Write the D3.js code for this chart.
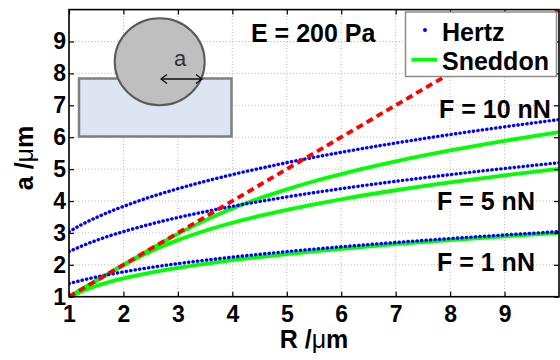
<!DOCTYPE html>
<html>
<head>
<meta charset="utf-8">
<script src="https://cdn.jsdelivr.net/npm/d3@7"></script>
<style>
  html, body { margin: 0; padding: 0; background: #fff; }
  svg { display: block; font-family: "Liberation Sans", Arial, Helvetica, sans-serif; }
</style>
</head>
<body>
<svg id="chart" width="560" height="360"></svg>
<script>
// Sphere radius R (µm)
const radius = [1, 1.25, 1.5, 1.75, 2, 2.25, 2.5, 2.75, 3, 3.5, 4, 4.5, 5, 5.5, 6, 7, 8, 9, 10];

// Contact radius a (µm), Hertz model
const hertz1  = [1.411, 1.520, 1.616, 1.701, 1.778, 1.849, 1.916, 1.978, 2.036, 2.143, 2.241, 2.330, 2.414, 2.492, 2.565, 2.700, 2.823, 2.936, 3.041];
const hertz5  = [2.413, 2.599, 2.763, 2.909, 3.040, 3.162, 3.276, 3.382, 3.481, 3.665, 3.832, 3.984, 4.128, 4.261, 4.386, 4.617, 4.827, 5.020, 5.200];
const hertz10 = [3.040, 3.275, 3.481, 3.665, 3.830, 3.984, 4.128, 4.261, 4.386, 4.617, 4.828, 5.020, 5.201, 5.369, 5.526, 5.817, 6.082, 6.325, 6.552];

// Contact radius a (µm), Sneddon model
const sneddon1  = [0.983, 1.179, 1.336, 1.465, 1.575, 1.671, 1.756, 1.833, 1.905, 2.032, 2.143, 2.244, 2.337, 2.422, 2.501, 2.646, 2.776, 2.894, 3.003];
const sneddon5  = [1.000, 1.250, 1.500, 1.747, 1.987, 2.212, 2.419, 2.605, 2.774, 3.068, 3.317, 3.533, 3.725, 3.897, 4.055, 4.337, 4.584, 4.804, 5.006];
const sneddon10 = [1.000, 1.250, 1.500, 1.750, 2.000, 2.249, 2.496, 2.736, 2.968, 3.392, 3.762, 4.084, 4.366, 4.618, 4.844, 5.241, 5.584, 5.886, 6.159];

// Geometric limit a = R
const limitR = [1, 10];
const limitA = [1, 10];

// Axis ticks
const xTicks = [1, 2, 3, 4, 5, 6, 7, 8, 9];
const yTicks = [1, 2, 3, 4, 5, 6, 7, 8, 9];

// Force annotations
const forceLabels = ["F = 10 nN", "F = 5 nN", "F = 1 nN"];

const svg = d3.select("#chart");
const plotLeft = 69, plotRight = 559, plotTop = 9.6, plotBottom = 296.7;

const x = d3.scaleLinear().domain([1, 10]).range([plotLeft, plotRight]);
const y = d3.scaleLinear().domain([1, 10]).range([plotBottom, plotTop]);

svg.append("defs").append("clipPath").attr("id", "plot")
  .append("rect").attr("x", plotLeft).attr("y", plotTop)
  .attr("width", plotRight - plotLeft).attr("height", plotBottom - plotTop);

// Grid
const grid = svg.append("g");
grid.selectAll("line.gx").data(xTicks).join("line").attr("class", "gx")
  .attr("x1", d => x(d)).attr("x2", d => x(d))
  .attr("y1", plotTop).attr("y2", plotBottom);
grid.selectAll("line.gy").data(yTicks).join("line").attr("class", "gy")
  .attr("y1", d => y(d)).attr("y2", d => y(d))
  .attr("x1", plotLeft).attr("x2", plotRight);
grid.selectAll("line")
  .attr("stroke", "#b4b4b4").attr("stroke-width", 1)
  .attr("stroke-dasharray", "1 2.2");

// Inset sketch: sphere on a substrate
const inset = svg.append("g");
inset.append("rect")
  .attr("x", 79).attr("y", 78.5).attr("width", 152.5).attr("height", 58)
  .attr("fill", "#dce5f1").attr("stroke", "#7f7f7f").attr("stroke-width", 2.5);
inset.append("ellipse")
  .attr("cx", 159.7).attr("cy", 61.7).attr("rx", 45).attr("ry", 43.5)
  .attr("fill", "#bfbfbf").attr("stroke", "#5a5a5a").attr("stroke-width", 2);
inset.append("line")
  .attr("x1", 161).attr("x2", 202).attr("y1", 79).attr("y2", 79)
  .attr("stroke", "#111").attr("stroke-width", 1.3);
inset.append("path")
  .attr("d", "M167,74.5 L161,79 L167,83.5 M196,74.5 L202,79 L196,83.5")
  .attr("fill", "none").attr("stroke", "#111").attr("stroke-width", 1.3);
inset.append("text")
  .attr("x", 180).attr("y", 66).attr("text-anchor", "middle")
  .attr("font-size", 22).attr("fill", "#333").text("a");

// Curves
const line = d3.line().x(d => x(d[0])).y(d => y(d[1])).curve(d3.curveMonotoneX);
const curves = svg.append("g").attr("clip-path", "url(#plot)");

const sneddonSeries = [sneddon1, sneddon5, sneddon10];
const hertzSeries = [hertz1, hertz5, hertz10];

curves.selectAll("path.sneddon").data(sneddonSeries).join("path")
  .attr("class", "sneddon")
  .attr("d", v => line(radius.map((r, i) => [r, v[i]])))
  .attr("fill", "none").attr("stroke", "#00ff00").attr("stroke-width", 3.8);

curves.selectAll("path.hertz").data(hertzSeries).join("path")
  .attr("class", "hertz")
  .attr("d", v => line(radius.map((r, i) => [r, v[i]])))
  .attr("fill", "none").attr("stroke", "#0000ff").attr("stroke-width", 3.4)
  .attr("stroke-linecap", "round").attr("stroke-dasharray", "0.3 4.2");

curves.append("path")
  .attr("d", d3.line().x(d => x(d[0])).y(d => y(d[1]))(limitR.map((r, i) => [r, limitA[i]])))
  .attr("fill", "none").attr("stroke", "#ff0000").attr("stroke-width", 3.8)
  .attr("stroke-dasharray", "7 4.5");

// Axes
const fmt = d3.format("d");
svg.append("g").attr("transform", `translate(0,${plotBottom})`)
  .call(d3.axisBottom(x).tickValues(xTicks).tickFormat(fmt).tickSizeInner(-5).tickSizeOuter(0).tickPadding(9));
svg.append("g").attr("transform", `translate(${plotLeft},0)`)
  .call(d3.axisLeft(y).tickValues(yTicks).tickFormat(fmt).tickSizeInner(-5).tickSizeOuter(0).tickPadding(3));
svg.append("g").attr("transform", `translate(0,${plotTop})`)
  .call(d3.axisTop(x).tickValues(xTicks).tickFormat("").tickSizeInner(-5).tickSizeOuter(0));
svg.append("g").attr("transform", `translate(${plotRight},0)`)
  .call(d3.axisRight(y).tickValues(yTicks).tickFormat("").tickSizeInner(-5).tickSizeOuter(0));

svg.selectAll(".domain").remove();
svg.selectAll(".tick line").attr("stroke", "#000").attr("stroke-width", 1.2);
svg.selectAll(".tick text")
  .attr("font-size", 23).attr("font-weight", "bold").attr("fill", "#000")
  .attr("font-family", "'Liberation Sans', Arial, Helvetica, sans-serif");

svg.append("rect")
  .attr("x", plotLeft).attr("y", plotTop)
  .attr("width", plotRight - plotLeft).attr("height", plotBottom - plotTop)
  .attr("fill", "none").attr("stroke", "#000").attr("stroke-width", 1.6);

// Axis titles
const xTitle = svg.append("text")
  .attr("x", 314).attr("y", 348).attr("text-anchor", "middle")
  .attr("font-size", 25).attr("font-weight", "bold");
xTitle.append("tspan").text("R /");
xTitle.append("tspan").attr("font-weight", "normal").text("μ");
xTitle.append("tspan").text("m");

const yTitle = svg.append("text")
  .attr("transform", "translate(33,158) rotate(-90)").attr("text-anchor", "middle")
  .attr("font-size", 25).attr("font-weight", "bold");
yTitle.append("tspan").text("a /");
yTitle.append("tspan").attr("font-weight", "normal").text("μ");
yTitle.append("tspan").text("m");

// Annotations
svg.append("text")
  .attr("x", 251).attr("y", 42)
  .attr("font-size", 25).attr("font-weight", "bold").text("E = 200 Pa");

const labelY = [118, 210, 271];
const labelX = [439, 437, 437];
svg.selectAll("text.force").data(forceLabels).join("text")
  .attr("class", "force")
  .attr("x", (d, i) => labelX[i]).attr("y", (d, i) => labelY[i])
  .attr("font-size", 25).attr("font-weight", "bold").text(d => d);

// Legend
const legend = svg.append("g");
legend.append("rect")
  .attr("x", 405.5).attr("y", 12).attr("width", 151).attr("height", 64.5)
  .attr("fill", "#fff").attr("stroke", "#8c8c8c").attr("stroke-width", 1.5);
legend.append("circle").attr("cx", 425).attr("cy", 30).attr("r", 2).attr("fill", "#0000ff");
legend.append("line").attr("x1", 411.5).attr("x2", 437).attr("y1", 59.7).attr("y2", 59.7)
  .attr("stroke", "#00ff00").attr("stroke-width", 3.8);
legend.append("text").attr("x", 442).attr("y", 41)
  .attr("font-size", 25).attr("font-weight", "bold").text("Hertz");
legend.append("text").attr("x", 442).attr("y", 69.5)
  .attr("font-size", 25).attr("font-weight", "bold").text("Sneddon");
</script>
</body>
</html>
